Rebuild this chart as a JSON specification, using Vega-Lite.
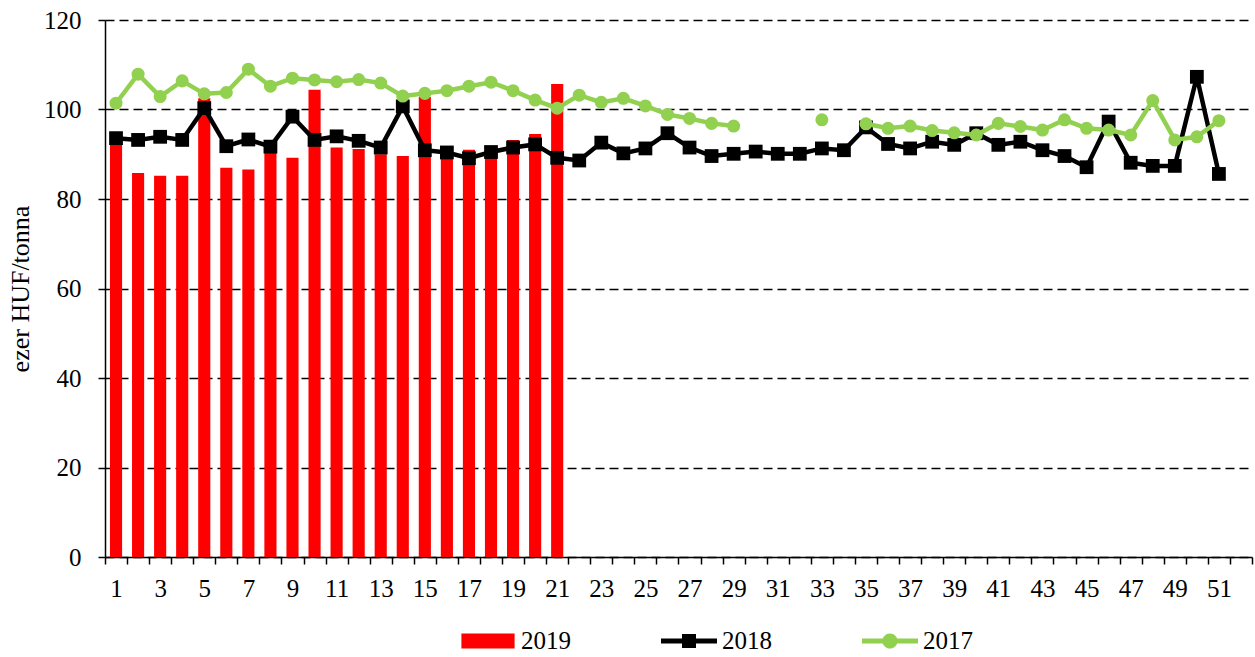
{
  "$schema": "https://vega.github.io/schema/vega-lite/v6.json",
  "width": 1147,
  "height": 537,
  "autosize": {"type": "none"},
  "padding": {"left": 105, "top": 20, "right": 3, "bottom": 100},
  "background": "white",
  "config": {"view": {"stroke": null}, "font": "Liberation Serif"},
  "data": {"values": [
    {"w":1,"y":"2019","v":93},{"w":2,"y":"2019","v":85.8},{"w":3,"y":"2019","v":85.2},{"w":4,"y":"2019","v":85.2},{"w":5,"y":"2019","v":102.5},
    {"w":6,"y":"2019","v":87},{"w":7,"y":"2019","v":86.6},{"w":8,"y":"2019","v":91.5},{"w":9,"y":"2019","v":89.2},{"w":10,"y":"2019","v":104.4},
    {"w":11,"y":"2019","v":91.5},{"w":12,"y":"2019","v":91.2},{"w":13,"y":"2019","v":90},{"w":14,"y":"2019","v":89.6},{"w":15,"y":"2019","v":102.8},
    {"w":16,"y":"2019","v":90.2},{"w":17,"y":"2019","v":91},{"w":18,"y":"2019","v":90.5},{"w":19,"y":"2019","v":93.2},{"w":20,"y":"2019","v":94.5},
    {"w":21,"y":"2019","v":105.7},
    {"w":1,"y":"2018","v":93.6},{"w":2,"y":"2018","v":93.2},{"w":3,"y":"2018","v":93.9},{"w":4,"y":"2018","v":93.2},{"w":5,"y":"2018","v":100.3},
    {"w":6,"y":"2018","v":91.8},{"w":7,"y":"2018","v":93.3},{"w":8,"y":"2018","v":91.7},{"w":9,"y":"2018","v":98.4},{"w":10,"y":"2018","v":93.2},
    {"w":11,"y":"2018","v":94.0},{"w":12,"y":"2018","v":93.0},{"w":13,"y":"2018","v":91.5},{"w":14,"y":"2018","v":100.7},{"w":15,"y":"2018","v":90.9},
    {"w":16,"y":"2018","v":90.4},{"w":17,"y":"2018","v":89.1},{"w":18,"y":"2018","v":90.5},{"w":19,"y":"2018","v":91.5},{"w":20,"y":"2018","v":92.2},
    {"w":21,"y":"2018","v":89.2},{"w":22,"y":"2018","v":88.6},{"w":23,"y":"2018","v":92.6},{"w":24,"y":"2018","v":90.2},{"w":25,"y":"2018","v":91.3},
    {"w":26,"y":"2018","v":94.7},{"w":27,"y":"2018","v":91.5},{"w":28,"y":"2018","v":89.6},{"w":29,"y":"2018","v":90.1},{"w":30,"y":"2018","v":90.6},
    {"w":31,"y":"2018","v":90.1},{"w":32,"y":"2018","v":90.1},{"w":33,"y":"2018","v":91.3},{"w":34,"y":"2018","v":90.9},{"w":35,"y":"2018","v":96.0},
    {"w":36,"y":"2018","v":92.3},{"w":37,"y":"2018","v":91.3},{"w":38,"y":"2018","v":92.8},{"w":39,"y":"2018","v":92.1},{"w":40,"y":"2018","v":94.7},
    {"w":41,"y":"2018","v":92.1},{"w":42,"y":"2018","v":92.8},{"w":43,"y":"2018","v":90.9},{"w":44,"y":"2018","v":89.6},{"w":45,"y":"2018","v":87.1},
    {"w":46,"y":"2018","v":97.3},{"w":47,"y":"2018","v":88.1},{"w":48,"y":"2018","v":87.4},{"w":49,"y":"2018","v":87.4},{"w":50,"y":"2018","v":107.3},
    {"w":51,"y":"2018","v":85.6},
    {"w":1,"y":"2017","v":101.4},{"w":2,"y":"2017","v":107.9},{"w":3,"y":"2017","v":102.9},{"w":4,"y":"2017","v":106.4},{"w":5,"y":"2017","v":103.5},
    {"w":6,"y":"2017","v":103.8},{"w":7,"y":"2017","v":109.0},{"w":8,"y":"2017","v":105.2},{"w":9,"y":"2017","v":107.0},{"w":10,"y":"2017","v":106.6},
    {"w":11,"y":"2017","v":106.2},{"w":12,"y":"2017","v":106.7},{"w":13,"y":"2017","v":105.9},{"w":14,"y":"2017","v":103.0},{"w":15,"y":"2017","v":103.6},
    {"w":16,"y":"2017","v":104.2},{"w":17,"y":"2017","v":105.2},{"w":18,"y":"2017","v":106.1},{"w":19,"y":"2017","v":104.2},{"w":20,"y":"2017","v":102.1},
    {"w":21,"y":"2017","v":100.3},{"w":22,"y":"2017","v":103.2},{"w":23,"y":"2017","v":101.6},{"w":24,"y":"2017","v":102.5},{"w":25,"y":"2017","v":100.8},
    {"w":26,"y":"2017","v":98.9},{"w":27,"y":"2017","v":98.0},{"w":28,"y":"2017","v":96.9},{"w":29,"y":"2017","v":96.3},{"w":30,"y":"2017","v":null},
    {"w":31,"y":"2017","v":null},{"w":32,"y":"2017","v":null},{"w":33,"y":"2017","v":97.7},{"w":34,"y":"2017","v":null},{"w":35,"y":"2017","v":96.8},
    {"w":36,"y":"2017","v":95.8},{"w":37,"y":"2017","v":96.3},{"w":38,"y":"2017","v":95.3},{"w":39,"y":"2017","v":94.8},{"w":40,"y":"2017","v":94.3},
    {"w":41,"y":"2017","v":96.9},{"w":42,"y":"2017","v":96.2},{"w":43,"y":"2017","v":95.4},{"w":44,"y":"2017","v":97.7},{"w":45,"y":"2017","v":95.8},
    {"w":46,"y":"2017","v":95.4},{"w":47,"y":"2017","v":94.3},{"w":48,"y":"2017","v":102.0},{"w":49,"y":"2017","v":93.2},{"w":50,"y":"2017","v":93.9},
    {"w":51,"y":"2017","v":97.5}
  ]},
  "encoding": {
    "x": {
      "field": "w", "type": "ordinal",
      "scale": {"domain": [1,2,3,4,5,6,7,8,9,10,11,12,13,14,15,16,17,18,19,20,21,22,23,24,25,26,27,28,29,30,31,32,33,34,35,36,37,38,39,40,41,42,43,44,45,46,47,48,49,50,51,52], "paddingInner": 0, "paddingOuter": 0},
      "axis": {
        "title": null, "labelAngle": 0, "tickBand": "extent", "grid": false,
        "labelExpr": "datum.value % 2 == 1 ? datum.label : ''",
        "labelOverlap": false, "labelFontSize": 25, "labelColor": "black", "labelPadding": 12,
        "domainColor": "black", "domainWidth": 1.5, "tickColor": "black", "tickWidth": 1.5, "tickSize": 7
      }
    },
    "y": {
      "field": "v", "type": "quantitative",
      "scale": {"domain": [0, 120], "nice": false},
      "axis": {
        "title": "ezer HUF/tonna", "titleFontSize": 26, "titleFontWeight": "normal", "titleColor": "black", "titlePadding": 10,
        "values": [0, 20, 40, 60, 80, 100, 120],
        "labelFontSize": 25, "labelColor": "black", "labelPadding": 17,
        "grid": true, "gridColor": "black", "gridDash": [9, 5], "gridWidth": 1.3, "gridOpacity": 1,
        "domainColor": "black", "domainWidth": 1.5, "tickColor": "black", "tickWidth": 1.5, "tickSize": 7
      }
    },
    "color": {
      "field": "y", "type": "nominal",
      "scale": {"domain": ["2019", "2018", "2017"], "range": ["#FF0000", "#000000", "#92D050"]},
      "legend": {
        "title": null, "orient": "none", "direction": "horizontal", "legendX": 355, "legendY": 593,
        "symbolSize": 3136, "labelFontSize": 25, "labelColor": "black", "labelOffset": 5, "columnPadding": 90,
        "encode": {
          "symbols": {
            "update": {
              "shape": {"signal": "datum.value === '2019' ? 'M-0.95,-0.27H0.95V0.27H-0.95Z' : datum.value === '2018' ? 'M-1,-0.09H1V0.09H-1Z M-0.25,-0.25H0.25V0.25H-0.25Z' : 'M-1,-0.09H1V0.09H-1Z M0.27,0 A0.27,0.27 0 1,1 -0.27,0 A0.27,0.27 0 1,1 0.27,0Z'"},
              "fill": {"signal": "scale('color', datum.value)"},
              "stroke": {"value": "transparent"},
              "strokeWidth": {"value": 0},
              "opacity": {"value": 1}
            }
          }
        }
      }
    }
  },
  "layer": [
    {"transform": [{"filter": "datum.y == '2019'"}], "mark": {"type": "bar", "width": {"band": 0.55}}},
    {"transform": [{"filter": "datum.y == '2018'"}], "mark": {"type": "line", "strokeWidth": 4.5, "invalid": "break-paths-show-domains"}},
    {"transform": [{"filter": "datum.y == '2018'"}], "mark": {"type": "point", "shape": "square", "filled": true, "size": 190, "opacity": 1}},
    {"transform": [{"filter": "datum.y == '2017'"}], "mark": {"type": "line", "strokeWidth": 4.5, "invalid": "break-paths-show-domains"}},
    {"transform": [{"filter": "datum.y == '2017'"}], "mark": {"type": "point", "shape": "circle", "filled": true, "size": 170, "opacity": 1}}
  ]
}
